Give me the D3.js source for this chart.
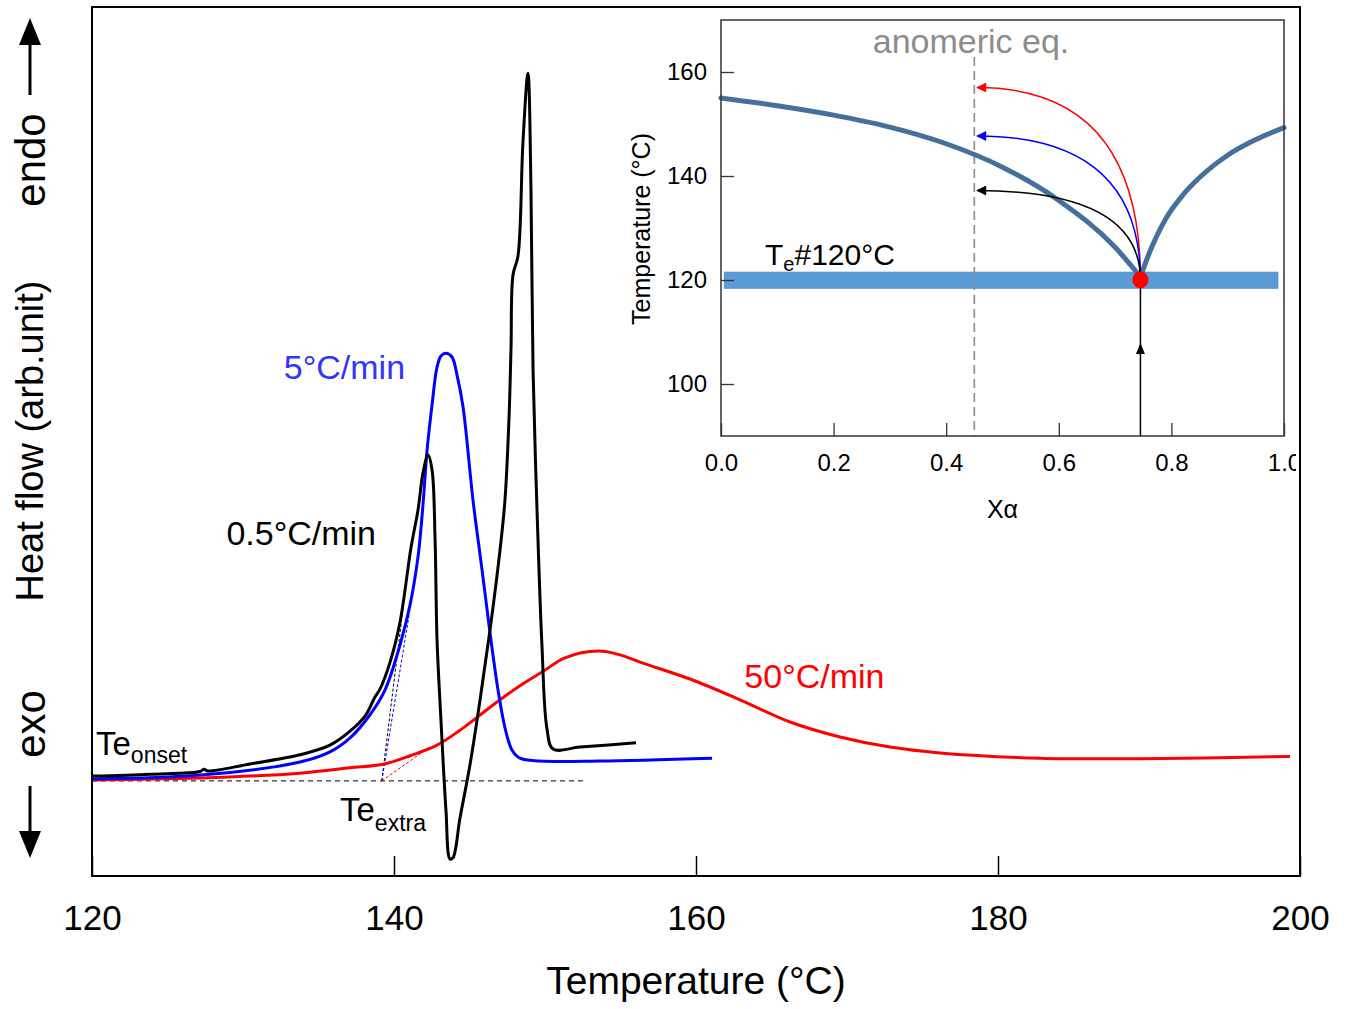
<!DOCTYPE html>
<html>
<head>
<meta charset="utf-8">
<script src="https://cdn.jsdelivr.net/npm/d3@7"></script>
<style>
  html, body { margin: 0; padding: 0; background: #fff; }
  svg { display: block; font-family: "Liberation Sans", Arial, sans-serif; }
</style>
</head>
<body>
<svg id="chart" width="1354" height="1009"></svg>
<script>
// ---------------- DATA ----------------
// Main DSC plot: [temperature °C, heat flow (arb.)]
const xTicksMain = [120, 140, 160, 180, 200];
const black05 = [
  [120.00, 0.07], [123.84, 0.11], [127.15, 0.165], [127.42, 0.21], [127.68, 0.175],
  [130.46, 0.32], [133.77, 0.51], [135.76, 0.71], [137.09, 1.00], [138.08, 1.31],
  [138.74, 1.71], [139.07, 1.87], [139.74, 2.43], [140.40, 3.26], [141.13, 4.81],
  [141.59, 5.58], [141.92, 6.35], [142.25, 6.72], [142.52, 6.41], [142.72, 4.96],
  [142.85, 2.89], [143.11, 1.23], [143.44, -0.63], [143.71, -1.65], [143.91, -1.62],
  [144.37, -0.80], [145.03, 0.30], [145.70, 1.65], [146.36, 3.10], [147.02, 4.75],
  [147.35, 5.79], [147.62, 7.51], [147.75, 8.94], [147.88, 10.45], [148.21, 10.84],
  [148.54, 13.20], [148.87, 14.63], [149.07, 12.25], [149.21, 8.46], [149.47, 5.60],
  [149.80, 2.76], [150.13, 1.05], [150.53, 0.63], [152.32, 0.67], [156.03, 0.76]
];
const blue5 = [
  [120.00, 0.01], [127.15, 0.09], [133.77, 0.36], [135.76, 0.57], [137.09, 0.86],
  [138.41, 1.34], [139.40, 1.85], [140.40, 2.79], [141.06, 3.61], [141.59, 4.61],
  [141.92, 5.69], [142.19, 6.82], [142.52, 7.76], [142.85, 8.54], [143.11, 8.77],
  [143.44, 8.83], [143.84, 8.75], [144.17, 8.38], [144.57, 7.72], [145.23, 5.79],
  [145.83, 4.34], [146.36, 3.03], [146.89, 1.85], [147.35, 1.07], [147.81, 0.61],
  [148.34, 0.44], [149.67, 0.38], [153.64, 0.38], [161.06, 0.44]
];
const red50 = [
  [120.00, -0.01], [127.15, 0.03], [133.77, 0.13], [137.09, 0.24], [139.34, 0.32],
  [141.06, 0.49], [142.85, 0.71], [144.37, 1.02], [145.43, 1.27], [147.02, 1.65],
  [148.34, 1.94], [149.93, 2.25], [151.32, 2.52], [153.51, 2.66], [154.97, 2.58],
  [156.29, 2.43], [159.60, 2.08], [162.91, 1.65], [166.23, 1.19], [169.54, 0.88],
  [172.85, 0.67], [176.16, 0.55], [182.78, 0.44], [189.40, 0.43], [199.34, 0.475]
];
// extrapolated-onset construction
const baselineSeg = [[120, -0.03], [152.5, -0.03]];
const tangentOrigin = [139.19, -0.03];
const tangentEnds = [
  { end: [140.62, 3.60], color: "#000000" },
  { end: [141.00, 3.40], color: "#0000ff" },
  { end: [142.27, 0.65], color: "#ff0000" }
];
const rateLabels = [
  { text: "5°C/min", T: 132.7, v: 8.3, color: "#3333ff" },
  { text: "0.5°C/min", T: 128.9, v: 4.85, color: "#000000" },
  { text: "50°C/min", T: 163.2, v: 1.9, color: "#ff0000" }
];

// Inset phase diagram: [x_alpha, temperature °C]
const insetXTicks = [0.0, 0.2, 0.4, 0.6, 0.8, 1.0];
const insetYTicks = [100, 120, 140, 160];
const liquidusLeft = [
  [0.0, 155.0], [0.1, 153.5], [0.2, 151.7], [0.3, 149.4], [0.4, 146.2],
  [0.5, 141.7], [0.6, 135.3], [0.7, 126.3], [0.745, 120.6]
];
const liquidusRight = [
  [0.745, 120.6], [0.76, 125.0], [0.79, 131.8], [0.82, 136.3], [0.85, 139.7],
  [0.9, 144.0], [0.95, 147.0], [1.0, 149.3]
];
const eutectic = [0.745, 120];
const eutecticBand = { x0: 0.005, x1: 0.99, T0: 118.3, T1: 121.6 };
const anomericX = 0.45;
const anomericTop = 162.9;
const pathArrows = [
  { T: 157.0, color: "#ff0000" },
  { T: 147.7, color: "#0000ff" },
  { T: 137.2, color: "#000000" }
];
const arrowEndX = 0.455;
const verticalArrowTip = 107.9;

// ---------------- LAYOUT ----------------
const svg = d3.select("#chart");
const M = { left: 92, right: 1300, top: 7, bottom: 876 };
const x = d3.scaleLinear().domain([120, 200]).range([M.left, M.right]);
const y = d3.scaleLinear().domain([-2, 16]).range([M.bottom, M.top]);

svg.append("rect").attr("width", 1354).attr("height", 1009).attr("fill", "#fff");

// defs: arrow markers
const defs = svg.append("defs");
["#ff0000", "#0000ff", "#000000"].forEach((c, i) => {
  defs.append("marker")
    .attr("id", "ah" + i)
    .attr("viewBox", "0 0 10 10")
    .attr("refX", 9).attr("refY", 5)
    .attr("markerWidth", 11).attr("markerHeight", 10)
    .attr("markerUnits", "userSpaceOnUse")
    .attr("orient", "auto")
    .append("path").attr("d", "M0,0 L10,5 L0,10 z").attr("fill", c);
});
const markerFor = c => c === "#ff0000" ? "url(#ah0)" : c === "#0000ff" ? "url(#ah1)" : "url(#ah2)";

// main axis
const xAxis = d3.axisBottom(x).tickValues(xTicksMain).tickSize(-20).tickPadding(29).tickFormat(d3.format("d"));
const gx = svg.append("g").attr("transform", `translate(0,${M.bottom})`).call(xAxis);
gx.select(".domain").remove();
gx.selectAll(".tick line").attr("stroke", "#000").attr("stroke-width", 1.5);
gx.selectAll(".tick text").attr("font-size", 35).attr("fill", "#000")
  .attr("font-family", "'Liberation Sans', Arial, sans-serif");

svg.append("text").attr("x", (M.left + M.right) / 2).attr("y", 994)
  .attr("text-anchor", "middle").attr("font-size", 39).text("Temperature (°C)");

// baseline & tangents (dashed)
const line = d3.line().x(d => x(d[0])).y(d => y(d[1]));
svg.append("path").attr("d", line(baselineSeg)).attr("fill", "none")
  .attr("stroke", "#000").attr("stroke-width", 1).attr("stroke-dasharray", "5,4");
tangentEnds.forEach(t => {
  svg.append("path").attr("d", line([tangentOrigin, t.end])).attr("fill", "none")
    .attr("stroke", t.color).attr("stroke-width", 1).attr("stroke-dasharray", "3,2");
});

// curves
const curve = d3.line().x(d => x(d[0])).y(d => y(d[1])).curve(d3.curveCatmullRom.alpha(0.5));
[[red50, "#ff0000"], [blue5, "#0000ff"], [black05, "#000000"]].forEach(([data, c]) => {
  svg.append("path").attr("d", curve(data)).attr("fill", "none")
    .attr("stroke", c).attr("stroke-width", 3).attr("stroke-linejoin", "round");
});

// rate labels
rateLabels.forEach(l => {
  svg.append("text").attr("x", x(l.T)).attr("y", y(l.v)).attr("font-size", 34)
    .attr("fill", l.color).text(l.text);
});

// Te onset / Te extra
const teOn = svg.append("text").attr("x", 96).attr("y", 755).attr("font-size", 33);
teOn.append("tspan").text("Te");
teOn.append("tspan").attr("font-size", 23).attr("dy", 8).text("onset");
const teEx = svg.append("text").attr("x", 340).attr("y", 821).attr("font-size", 33);
teEx.append("tspan").text("Te");
teEx.append("tspan").attr("font-size", 23).attr("dy", 10).text("extra");

// frame
svg.append("rect").attr("x", M.left).attr("y", M.top)
  .attr("width", M.right - M.left).attr("height", M.bottom - M.top)
  .attr("fill", "none").attr("stroke", "#000").attr("stroke-width", 2);

// left y label + endo/exo arrows
svg.append("text").attr("transform", "translate(43,441) rotate(-90)")
  .attr("text-anchor", "middle").attr("font-size", 38).text("Heat flow (arb.unit)");
svg.append("text").attr("transform", "translate(45,160) rotate(-90)")
  .attr("text-anchor", "middle").attr("font-size", 42).text("endo");
svg.append("text").attr("transform", "translate(45,724) rotate(-90)")
  .attr("text-anchor", "middle").attr("font-size", 42).text("exo");
svg.append("line").attr("x1", 30).attr("x2", 30).attr("y1", 40).attr("y2", 95)
  .attr("stroke", "#000").attr("stroke-width", 3);
svg.append("path").attr("d", "M30,18 L19,45 L41,45 Z").attr("fill", "#000");
svg.append("line").attr("x1", 30).attr("x2", 30).attr("y1", 786).attr("y2", 836)
  .attr("stroke", "#000").attr("stroke-width", 3);
svg.append("path").attr("d", "M30,858 L19,831 L41,831 Z").attr("fill", "#000");

// ---------------- INSET ----------------
const I = { left: 721, right: 1284, top: 20, bottom: 436 };
const ix = d3.scaleLinear().domain([0, 1]).range([I.left, I.right]);
const iy = d3.scaleLinear().domain([90, 170]).range([I.bottom, I.top]);

defs.append("clipPath").attr("id", "insetClip").append("rect")
  .attr("x", 600).attr("y", 0).attr("width", 1296 - 600).attr("height", 560);
const ig = svg.append("g").attr("clip-path", "url(#insetClip)");

ig.append("rect").attr("x", I.left).attr("y", I.top)
  .attr("width", I.right - I.left).attr("height", I.bottom - I.top).attr("fill", "#fff");

// band
ig.append("rect").attr("x", ix(eutecticBand.x0)).attr("y", iy(eutecticBand.T1))
  .attr("width", ix(eutecticBand.x1) - ix(eutecticBand.x0))
  .attr("height", iy(eutecticBand.T0) - iy(eutecticBand.T1)).attr("fill", "#5b9bd5");

// anomeric dashed line
ig.append("line").attr("x1", ix(anomericX)).attr("x2", ix(anomericX))
  .attr("y1", iy(anomericTop)).attr("y2", I.bottom)
  .attr("stroke", "#8c8c8c").attr("stroke-width", 1.6).attr("stroke-dasharray", "9,5");

// liquidus curves
const iline = d3.line().x(d => ix(d[0])).y(d => iy(d[1])).curve(d3.curveMonotoneX);
[liquidusLeft, liquidusRight].forEach(d => {
  ig.append("path").attr("d", iline(d)).attr("fill", "none")
    .attr("stroke", "#46709c").attr("stroke-width", 5).attr("stroke-linecap", "round");
});

// path arrows (quadratic curves from eutectic)
pathArrows.forEach(a => {
  const p = d3.path();
  p.moveTo(ix(eutectic[0]), iy(eutectic[1]));
  p.quadraticCurveTo(ix(eutectic[0]), iy(a.T), ix(arrowEndX), iy(a.T));
  ig.append("path").attr("d", p.toString()).attr("fill", "none")
    .attr("stroke", a.color).attr("stroke-width", 1.5)
    .attr("marker-end", markerFor(a.color));
});

// vertical heating arrow
ig.append("line").attr("x1", ix(eutectic[0])).attr("x2", ix(eutectic[0]))
  .attr("y1", I.bottom).attr("y2", iy(eutectic[1]))
  .attr("stroke", "#000").attr("stroke-width", 1.5);
const tx = ix(eutectic[0]), ty = iy(verticalArrowTip);
ig.append("path").attr("d", `M${tx},${ty} L${tx - 4.5},${ty + 11} L${tx + 4.5},${ty + 11} Z`).attr("fill", "#000");

// eutectic dot
ig.append("ellipse").attr("cx", ix(eutectic[0])).attr("cy", iy(eutectic[1]))
  .attr("rx", 8).attr("ry", 8.5).attr("fill", "#ff0000");

// inset axes
const ixAxis = d3.axisBottom(ix).tickValues(insetXTicks).tickSize(-13).tickPadding(18).tickFormat(d3.format(".1f"));
const gix = ig.append("g").attr("transform", `translate(0,${I.bottom})`).call(ixAxis);
gix.select(".domain").remove();
gix.selectAll(".tick line").attr("stroke", "#333").attr("stroke-width", 1.3);
gix.selectAll(".tick text").attr("font-size", 24).attr("fill", "#000")
  .attr("font-family", "'Liberation Sans', Arial, sans-serif");

const iyAxis = d3.axisLeft(iy).tickValues(insetYTicks).tickSize(-13).tickPadding(14).tickFormat(d3.format("d"));
const giy = ig.append("g").attr("transform", `translate(${I.left},0)`).call(iyAxis);
giy.select(".domain").remove();
giy.selectAll(".tick line").attr("stroke", "#333").attr("stroke-width", 1.3);
giy.selectAll(".tick text").attr("font-size", 24).attr("fill", "#000")
  .attr("font-family", "'Liberation Sans', Arial, sans-serif");

ig.append("rect").attr("x", I.left).attr("y", I.top)
  .attr("width", I.right - I.left).attr("height", I.bottom - I.top)
  .attr("fill", "none").attr("stroke", "#333").attr("stroke-width", 1.5);

// inset labels
ig.append("text").attr("transform", "translate(650,229) rotate(-90)")
  .attr("text-anchor", "middle").attr("font-size", 25).text("Temperature (°C)");
ig.append("text").attr("x", ix(0.5)).attr("y", 518).attr("text-anchor", "middle")
  .attr("font-size", 25).text("Xα");
ig.append("text").attr("x", 971).attr("y", 53).attr("text-anchor", "middle")
  .attr("font-size", 34).attr("fill", "#8c8c8c").text("anomeric eq.");
const teL = ig.append("text").attr("x", 765).attr("y", 265).attr("font-size", 30);
teL.append("tspan").text("T");
teL.append("tspan").attr("font-size", 20).attr("dy", 6).text("e");
teL.append("tspan").attr("dy", -6).text("#120°C");
</script>
</body>
</html>
